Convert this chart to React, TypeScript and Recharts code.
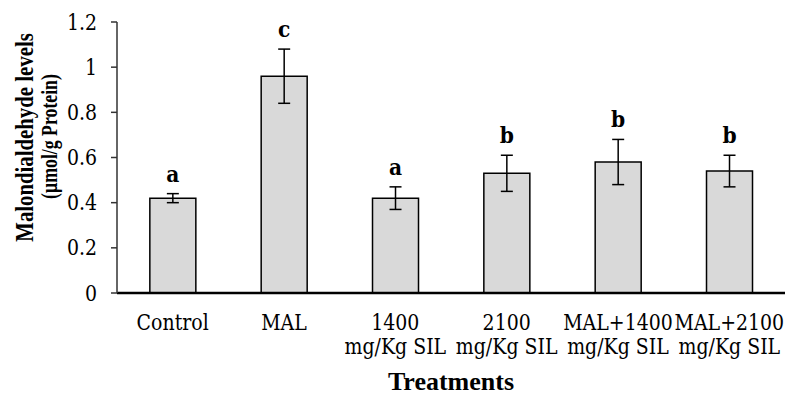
import { Bar, BarChart, ErrorBar, LabelList, XAxis, YAxis } from "recharts"

const treatments = ["Control", "MAL", "1400", "2100", "MAL+1400", "MAL+2100"]
const subLabels = ["", "", "mg/Kg SIL", "mg/Kg SIL", "mg/Kg SIL", "mg/Kg SIL"]
const mdaValues = [0.42, 0.96, 0.42, 0.53, 0.58, 0.54]
const mdaErrors = [0.02, 0.12, 0.05, 0.08, 0.1, 0.07]
const groupLetters = ["a", "c", "a", "b", "b", "b"]
const yTicks = [0, 0.2, 0.4, 0.6, 0.8, 1, 1.2]

const data = treatments.map((name, i) => ({
  name,
  sub: subLabels[i],
  value: mdaValues[i],
  err: mdaErrors[i],
  letter: groupLetters[i],
}))

const serif = "'DejaVu Serif', serif"
const boldSerif = "'Liberation Serif', 'Times New Roman', serif"
// the original uses a narrow serif face, so squeeze DejaVu a bit sideways
const squeeze = 0.88

function TreatmentTick(props: any) {
  const { x, y, payload, index } = props
  const sub = subLabels[index] ?? ""
  return (
    <g fontFamily={serif} fontSize={21.5} fill="#000">
      <text transform={`translate(${x},${y + 37}) scale(${squeeze},1)`} textAnchor="middle">
        {payload.value}
      </text>
      {sub ? (
        <text transform={`translate(${x},${y + 61}) scale(${squeeze},1)`} textAnchor="middle">
          {sub}
        </text>
      ) : null}
    </g>
  )
}

function ValueTick(props: any) {
  const { x, y, payload } = props
  return (
    <text
      transform={`translate(${x},${y + 7.5}) scale(${squeeze},1)`}
      textAnchor="end"
      fontFamily={serif}
      fontSize={21.5}
      fill="#000"
    >
      {String(payload.value)}
    </text>
  )
}

function LetterLabel(props: any) {
  const { x, y, width, height, index } = props
  const row = data[index]
  // pixels per unit from the bar itself, so the letter sits above the error cap
  const perUnit = height / row.value
  const capY = y - row.err * perUnit
  return (
    <text
      transform={`translate(${x + width / 2},${capY - 12}) scale(${squeeze},1)`}
      textAnchor="middle"
      fontFamily={serif}
      fontWeight="bold"
      fontSize={23}
      fill="#000"
    >
      {row.letter}
    </text>
  )
}

function YTitle() {
  return (
    <g fontFamily={boldSerif} fontWeight="bold" fill="#000">
      <text transform="translate(33,137.5) rotate(-90) scale(0.8,1)" textAnchor="middle" fontSize={26}>
        Malondialdehyde levels
      </text>
      <text transform="translate(57,136.5) rotate(-90) scale(0.74,1)" textAnchor="middle" fontSize={24}>
        (µmol/g Protein)
      </text>
    </g>
  )
}

export default function App() {
  return (
    <div style={{ position: "absolute", left: 0, top: 0, width: 785, height: 396, background: "#fff" }}>
      <BarChart
        width={785}
        height={396}
        data={data}
        margin={{ top: 22, right: 0, bottom: 43, left: 57 }}
        barCategoryGap="29.5%"
      >
        <XAxis
          dataKey="name"
          interval={0}
          height={60}
          tickLine={false}
          tickSize={0}
          tickMargin={0}
          axisLine={{ stroke: "#000", strokeWidth: 2.5 }}
          tick={<TreatmentTick />}
          label={{
            content: (p: any) => {
              const vb = p.viewBox
              return (
                <text
                  x={vb.x + vb.width / 2}
                  y={vb.y + 97}
                  textAnchor="middle"
                  fontFamily={boldSerif}
                  fontWeight="bold"
                  fontSize={26}
                  fill="#000"
                >
                  Treatments
                </text>
              )
            },
          }}
        />
        <YAxis
          width={60}
          domain={[0, 1.2]}
          ticks={yTicks}
          interval={0}
          tickSize={6}
          tickMargin={14}
          axisLine={{ stroke: "#333", strokeWidth: 1.5 }}
          tickLine={{ stroke: "#333", strokeWidth: 1.5 }}
          tick={<ValueTick />}
        />
        <Bar dataKey="value" fill="#d9d9d9" stroke="#000" strokeWidth={1.5} isAnimationActive={false}>
          <ErrorBar dataKey="err" width={6} stroke="#000" strokeWidth={1.5} isAnimationActive={false} />
          <LabelList dataKey="letter" content={<LetterLabel />} />
        </Bar>
        <YTitle />
      </BarChart>
    </div>
  )
}
